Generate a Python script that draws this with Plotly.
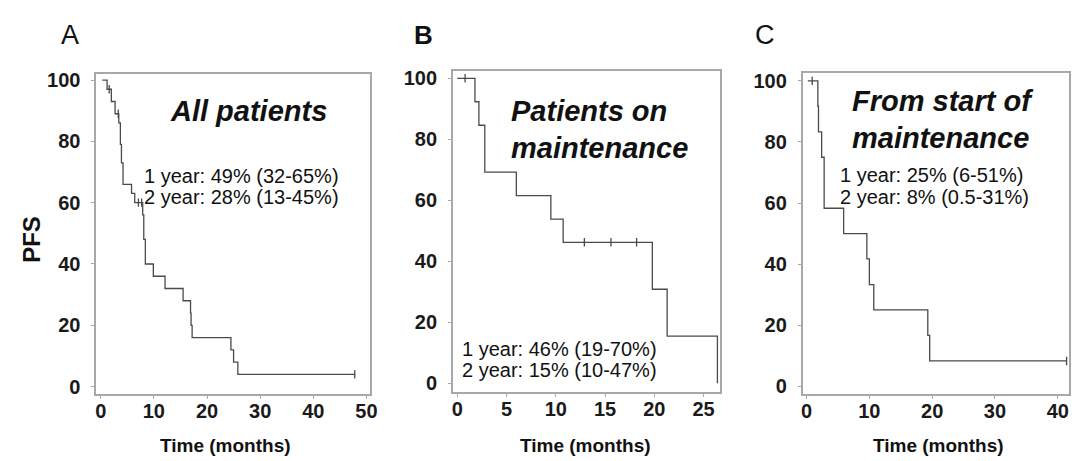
import plotly.graph_objects as go

# ---------------- data ----------------
# Panel A: all patients (step drop times, survival after drop)
a_time = [0.3, 1.2, 2.0, 2.7, 3.4, 3.7, 3.9, 4.2, 5.8, 6.4, 7.9, 8.1, 8.4, 9.9, 12.1,
          15.5, 16.9, 17.0, 17.2, 24.5, 25.0, 25.8, 47.8]
a_surv = [100, 97, 93, 89, 86, 79, 73, 66, 63, 60, 56, 48, 40, 36, 32,
          28, 24, 20, 16, 12, 8, 4, 4]
a_cens_time = [1.6, 3.3, 7.1, 7.7, 47.8]
a_cens_surv = [97, 89, 60, 60, 4]

# Panel B: patients on maintenance
b_time = [0, 1.8, 2.2, 2.8, 6.0, 9.5, 10.75, 19.8, 21.3, 26.4]
b_surv = [100, 92.3, 84.6, 69.2, 61.5, 53.8, 46.2, 30.8, 15.4, 0]
b_cens_time = [0.8, 12.9, 15.6, 18.2]
b_cens_surv = [100, 46.2, 46.2, 46.2]

# Panel C: from start of maintenance
c_time = [0.2, 1.8, 1.9, 2.4, 2.8, 5.9, 9.6, 10.0, 10.7, 19.3, 19.6, 41.4]
c_surv = [100, 91.7, 83.3, 75, 58.3, 50, 41.7, 33.3, 25, 16.7, 8.3, 8.3]
c_cens_time = [0.9, 41.4]
c_cens_surv = [100, 8.3]

a_xticks = [0, 10, 20, 30, 40, 50]
b_xticks = [0, 5, 10, 15, 20, 25]
c_xticks = [0, 10, 20, 30, 40]
y_ticks = [0, 20, 40, 60, 80, 100]

panel_letters = ["A", "B", "C"]
panel_titles = [["All patients"], ["Patients on", "maintenance"], ["From start of", "maintenance"]]
panel_notes = [["1 year: 49% (32-65%)", "2 year: 28% (13-45%)"],
               ["1 year: 46% (19-70%)", "2 year: 15% (10-47%)"],
               ["1 year: 25% (6-51%)", "2 year: 8% (0.5-31%)"]]

# ---------------- layout helpers ----------------
W, H = 1082, 461
def fx(px):
    return px / W
def fy(py):
    return 1 - py / H

FONT = "Arial, Liberation Sans, sans-serif"
LINE = "#4a4a4a"
FRAME = "#a8a8a8"

fig = go.Figure()

panels = [
    dict(t=a_time, s=a_surv, ct=a_cens_time, cs=a_cens_surv, xt=a_xticks,
         xpx=(87, 363), ypx=(62, 388), xr=[-0.85, 50.6], yr=[-2.5, 102]),
    dict(t=b_time, s=b_surv, ct=b_cens_time, cs=b_cens_surv, xt=b_xticks,
         xpx=(447, 717), ypx=(59, 386), xr=[-0.44, 26.7], yr=[-3, 102.4]),
    dict(t=c_time, s=c_surv, ct=c_cens_time, cs=c_cens_surv, xt=c_xticks,
         xpx=(800, 1069), ypx=(61, 388), xr=[-0.63, 41.8], yr=[-2.6, 102.6]),
]

for i, p in enumerate(panels):
    sfx = "" if i == 0 else str(i + 1)
    xa, ya = "x" + sfx, "y" + sfx
    fig.add_trace(go.Scatter(x=p["t"], y=p["s"], mode="lines", line_shape="hv",
                             line=dict(color=LINE, width=1.3), xaxis=xa, yaxis=ya,
                             showlegend=False, hoverinfo="skip"))
    fig.add_trace(go.Scatter(x=p["ct"], y=p["cs"], mode="markers",
                             marker=dict(symbol="line-ns", size=6,
                                         line=dict(color=LINE, width=1.3)),
                             xaxis=xa, yaxis=ya, showlegend=False, hoverinfo="skip"))
    axis_common = dict(showline=True, mirror=True, linecolor=FRAME, linewidth=1.5,
                       ticks="outside", ticklen=3, tickcolor=FRAME, tickwidth=1,
                       showgrid=False, zeroline=False,
                       tickfont=dict(family=FONT, size=20, color="#1a1a1a", weight="bold"))
    fig.update_layout(**{
        "xaxis" + sfx: dict(domain=[fx(p["xpx"][0]), fx(p["xpx"][1])], range=p["xr"],
                            tickvals=p["xt"], anchor=ya, ticklabelstandoff=-5,
                            **axis_common),
        "yaxis" + sfx: dict(domain=[fy(p["ypx"][1]), fy(p["ypx"][0])], range=p["yr"],
                            tickvals=y_ticks, anchor=xa, ticklabelstandoff=7,
                            **axis_common),
    })

annotations = []
def add_text(text, px, py, size, xanchor="left", bold=False, italic=False, angle=0):
    t = text
    if bold:
        t = "<b>" + t + "</b>"
    if italic:
        t = "<i>" + t + "</i>"
    annotations.append(dict(text=t, x=fx(px), y=fy(py), xref="paper", yref="paper",
                            xanchor=xanchor, yanchor="middle", showarrow=False,
                            textangle=angle,
                            font=dict(family=FONT, size=size, color="#111111")))

# panel letters
add_text(panel_letters[0], 61, 22, 27, xanchor="center")
add_text(panel_letters[1], 417, 22, 26, xanchor="center", bold=True)
add_text(panel_letters[2], 762, 22, 27, xanchor="center")

# titles inside panels
title_pos = [(159, [100]), (504, [100, 137]), (848, [90, 127])]
for (x0, ys), lines in zip(title_pos, panel_titles):
    for yy, line in zip(ys, lines):
        add_text(line, x0, yy, 29, bold=True, italic=True)

# 1/2-year notes
note_pos = [(133, [165.5, 187.5]), (454, [341.5, 363.5]), (836, [165, 187.5])]
for (x0, ys), lines in zip(note_pos, panel_notes):
    for yy, line in zip(ys, lines):
        add_text(line, x0, yy, 20)

# axis titles
for cx in [217.5, 581, 937.5]:
    add_text("Time (months)", cx, 440, 19, xanchor="center", bold=True)
add_text("PFS", 21, 230, 24, xanchor="center", bold=True, angle=-90)

fig.update_layout(width=W, height=H, margin=dict(l=0, r=0, t=0, b=0),
                  paper_bgcolor="white", plot_bgcolor="white",
                  annotations=annotations)

fig.write_html("out.html")
